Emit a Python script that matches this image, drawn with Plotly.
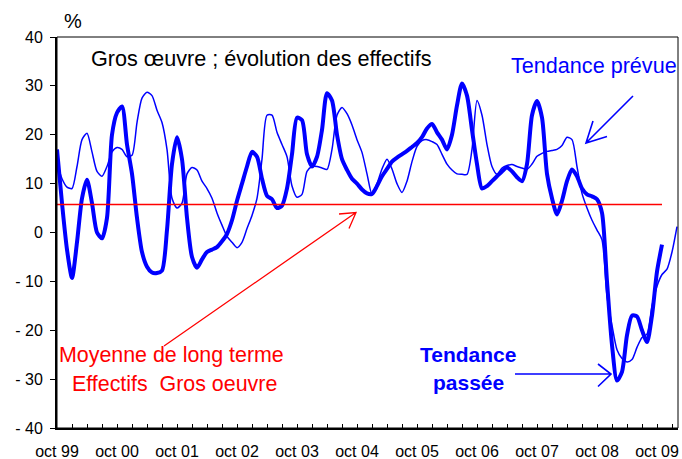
import plotly.graph_objects as go

# ---------------- data (monthly, starting oct 99) ----------------
tendance_passee = [
    17, 6, -3.5, -9.3, -2, 7, 10.8, 6, 0, -1.2,
    3, 20, 24.5, 25.8, 18, 12, 3, -4, -7, -8.2,
    -8.3, -7.8, 0.5, 14, 19.5, 15, 3, -5, -7.2, -5.5,
    -4, -3.5, -3, -1.8, -0.3, 2.5, 6.5, 10, 13.5, 16.5,
    15.5, 11, 7.5, 6.8, 5, 5.5, 9, 16, 23.5, 23,
    16, 13.5, 15.5, 21, 28.5, 27, 20, 15, 12.8, 11,
    10, 8.8, 8, 7.9, 9.5, 11.5, 13, 14.5, 15.3, 16,
    16.7, 17.5, 18.3, 19.5, 21.3, 22.2, 20.5, 19, 17, 20,
    26, 30.5, 28, 21, 14, 9, 9.5, 10.5, 11.5, 12.5,
    13.3, 12.5, 11.3, 10.5, 14, 24, 26.9, 23.5, 12, 7,
    3.7, 6.5, 10.5, 12.9, 11.5, 9, 7.8, 7.4, 6.8, 4,
    -10, -23, -30.3, -28.5, -21, -17, -17.2, -20, -22.4, -17,
    -8, -2.5,
]

tendance_prevue = [
    14.4, 11, 9.3, 9, 13.5, 19, 20.3, 16.5, 12.5, 11.5,
    13.5, 16.5, 17.4, 17, 15.5, 15.8, 22.5, 27.5, 28.7, 28,
    25, 22.5, 17, 7, 5, 6, 12, 13.3, 12.8, 10.5,
    9, 7, 4, 1.5, -0.8, -2, -3.1, -2, 0.8, 3.5,
    7, 15, 24, 24, 20.5, 18, 15.5, 9.5, 7.2, 7.8,
    12.5, 13.5, 13.5, 13.2, 12.9, 17, 24, 25.6, 24.3, 22,
    19, 16.4, 12, 7.8, 10, 13, 15, 13, 10, 8.2,
    10.5, 14.5, 17.6, 18.8, 19, 18.6, 18, 16, 14, 12.8,
    12, 11.9, 11.9, 17, 27, 24, 18, 13.5, 11.9, 13.2,
    13.7, 13.9, 13.5, 13.2, 12.9, 14, 15.6, 16.2, 16.6, 16.8,
    17, 17.8, 19.5, 19, 13.5, 8, 5, 2.5, 0.5, -1.5,
    -13, -19, -24, -25.8, -26.5, -26, -23.5, -21.5, -20.8, -15,
    -11, -8.6, -7.5, -4, 1.2,
]

moyenne_long_terme = 5.75

year_labels = ["oct 99", "oct 00", "oct 01", "oct 02", "oct 03", "oct 04",
               "oct 05", "oct 06", "oct 07", "oct 08", "oct 09"]
y_tick_vals = [40, 30, 20, 10, 0, -10, -20, -30, -40]
y_tick_text = ["40", "30", "20", "10", "0", "- 10", "- 20", "- 30", "- 40"]

# ---------------- layout geometry ----------------
W, H = 682, 459
ML, MR, MT, MB = 57, 4, 37, 31
PW, PH = W - ML - MR, H - MT - MB
PX_PER_MONTH = 5.0
x_max = PW / PX_PER_MONTH

FONT = "Liberation Sans, Arial, sans-serif"
BLUE = "#0000FF"
RED = "#FF0000"


def fx(px):
    return (px - ML) / PW


def fy(py):
    return (H - MB - py) / PH


months_passee = list(range(len(tendance_passee)))
months_prevue = list(range(len(tendance_prevue)))

fig = go.Figure()
fig.add_trace(go.Scatter(x=months_prevue, y=tendance_prevue, mode="lines",
                         line=dict(color=BLUE, width=1.5, shape="spline", smoothing=0.7),
                         hoverinfo="skip", showlegend=False))
fig.add_trace(go.Scatter(x=months_passee, y=tendance_passee, mode="lines",
                         line=dict(color=BLUE, width=4, shape="spline", smoothing=0.7),
                         hoverinfo="skip", showlegend=False))
fig.add_trace(go.Scatter(x=[0, len(tendance_passee) - 1],
                         y=[moyenne_long_terme, moyenne_long_terme], mode="lines",
                         line=dict(color=RED, width=1.5),
                         hoverinfo="skip", showlegend=False))

x_tick_vals = list(range(0, int(x_max) + 1, 3))
x_tick_text = [year_labels[m // 12] if (m % 12 == 0 and m // 12 < len(year_labels)) else ""
               for m in x_tick_vals]

fig.update_layout(
    width=W, height=H,
    margin=dict(l=ML, r=MR, t=MT, b=MB, pad=0, autoexpand=False),
    paper_bgcolor="white", plot_bgcolor="white",
    font=dict(family=FONT, size=16, color="black"),
    showlegend=False,
    xaxis=dict(range=[0, x_max], tickvals=x_tick_vals, ticktext=x_tick_text,
               ticks="inside", ticklen=4, tickwidth=1, tickcolor="black",
               showline=True, linewidth=2, linecolor="black", mirror=False,
               showgrid=False, zeroline=False, ticklabelstandoff=8,
               automargin=False,
               tickfont=dict(size=16, family=FONT, color="black")),
    yaxis=dict(range=[-40, 40], tickvals=y_tick_vals, ticktext=y_tick_text,
               ticks="outside", ticklen=5, tickwidth=1, tickcolor="black",
               showline=True, linewidth=2, linecolor="black", mirror=False,
               showgrid=False, zeroline=False, ticklabelstandoff=4,
               automargin=False,
               tickfont=dict(size=16, family=FONT, color="black")),
)

# frame (top/right)
fig.add_shape(type="rect", xref="paper", yref="paper", x0=0, y0=0, x1=1, y1=1,
              line=dict(color="black", width=1), layer="above")


def arrow(tail, tip, arm1, arm2, color, width):
    path = (f"M{fx(tail[0])},{fy(tail[1])} L{fx(tip[0])},{fy(tip[1])} "
            f"M{fx(arm1[0])},{fy(arm1[1])} L{fx(tip[0])},{fy(tip[1])} L{fx(arm2[0])},{fy(arm2[1])}")
    fig.add_shape(type="path", xref="paper", yref="paper", path=path,
                  line=dict(color=color, width=width), layer="above")


arrow((633, 96), (586, 143), (593, 121), (607, 136.5), BLUE, 1.6)
arrow((164, 346), (356, 212.5), (339, 214), (349, 228.5), RED, 1.3)
arrow((515, 374), (611, 374), (598, 364), (598, 386.5), BLUE, 1.6)


def text(s, x, y, color="black", size=21.5, xanchor="left", bold=False):
    if bold:
        s = f"<b>{s}</b>"
    fig.add_annotation(text=s, xref="paper", yref="paper", x=fx(x), y=fy(y),
                       xanchor=xanchor, yanchor="middle", showarrow=False,
                       font=dict(family=FONT, size=size, color=color))


text("%", 62, 21, size=20)
text("Gros œuvre ; évolution des effectifs", 89, 59, size=21.6)
text("Tendance prévue", 594, 65, color=BLUE, size=21.6, xanchor="center")
text("Moyenne de long terme", 171.5, 355, color=RED, size=21.4, xanchor="center")
text("Effectifs  Gros oeuvre", 174.5, 384, color=RED, size=21.4, xanchor="center")
text("Tendance", 468, 354, color=BLUE, size=21, xanchor="center", bold=True)
text("passée", 468.5, 382, color=BLUE, size=21, xanchor="center", bold=True)

fig.write_html("out.html", post_script="document.body.style.margin='0';",
               config={"displayModeBar": False})
